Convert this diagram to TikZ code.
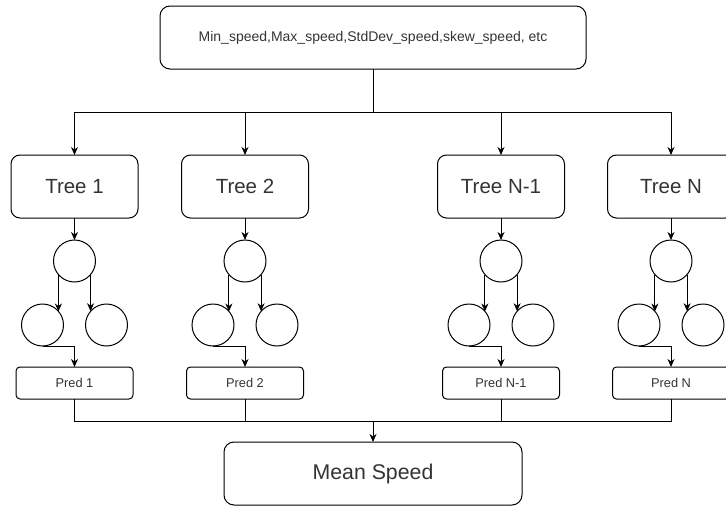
\documentclass[tikz,border=0pt]{standalone}
\usepackage{fontspec}
\setmainfont{Liberation Sans}
\usetikzlibrary{arrows.meta}
\definecolor{txt}{HTML}{333333}
\tikzset{
  base/.style={draw=black, line width=1pt, inner sep=0pt, outer sep=0pt, text=txt},
  topbox/.style={base, rounded corners=10pt, minimum width=426pt, minimum height=63pt, font=\fontsize{14}{16}\selectfont},
  treebox/.style={base, rounded corners=9pt, minimum width=127pt, minimum height=63pt, font=\fontsize{20.5}{24}\selectfont},
  predbox/.style={base, rounded corners=4pt, minimum width=117pt, minimum height=32pt, font=\fontsize{12.8}{15}\selectfont},
  meanbox/.style={base, rounded corners=10pt, minimum width=298pt, minimum height=63pt, font=\fontsize{21.3}{25}\selectfont},
  leaf/.style={base, circle, minimum size=42pt},
  conn/.style={line width=1pt, draw=black},
  arr/.style={conn, -{Stealth[length=8pt,width=7pt,inset=2.5pt]}}
}
\begin{document}
\begin{tikzpicture}[x=1pt,y=-1pt]
\useasboundingbox (0,0) rectangle (726,506);
\node[topbox] (top) at (373,37.5) {Min\_speed,Max\_speed,StdDev\_speed,skew\_speed, etc};
\coordinate (bus) at (373,112);
\coordinate (mbus) at (373,421);
\node[meanbox] (mean) at (373,473.5) {Mean Speed};
\draw[conn] (top.south) -- (bus);
\foreach \i/\x/\lab/\plab in {1/74.5/Tree 1/Pred 1, 2/245/Tree 2/Pred 2, 3/501/Tree N-1/Pred N-1, 4/671/Tree N/Pred N}{
  \node[treebox] (t\i) at (\x,186.5) {\lab};
  \node[leaf] (c\i) at (\x,261) {};
  \node[leaf] (l\i) at (\x-32,325) {};
  \node[leaf] (r\i) at (\x+32,325) {};
  \node[predbox] (p\i) at (\x,383) {\plab};
  \draw[arr] (bus) -| (t\i.north);
  \draw[arr] (t\i.south) -- (c\i.north);
  \draw[arr] (c\i.220.4) -- (c\i.220.4 |- l\i.40.4);
  \draw[arr] (c\i.-40.4) -- (c\i.-40.4 |- r\i.139.6);
  \draw[arr] (l\i.south) -| (p\i.north);
  \draw[conn] (p\i.south) |- (mbus);
}
\draw[arr] (mbus) -- (mean.north);
\end{tikzpicture}
\end{document}
